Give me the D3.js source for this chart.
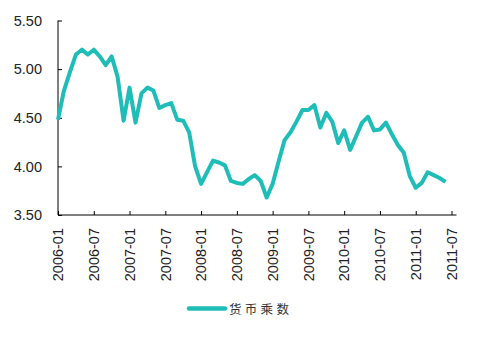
<!DOCTYPE html>
<html><head><meta charset="utf-8">
<script src="https://cdn.jsdelivr.net/npm/d3@7/dist/d3.min.js"></script>
<style>body{margin:0;background:#fff;}svg{display:block;}</style>
</head><body>
<svg id="c" width="477" height="342"></svg>
<script>
const startYear = 2006;
const values = [4.48,4.78,4.97,5.15,5.20,5.15,5.20,5.13,5.04,5.13,4.92,4.47,
  4.81,4.45,4.75,4.81,4.78,4.60,4.63,4.65,4.48,4.47,4.35,4.00,
  3.82,3.94,4.06,4.04,4.01,3.85,3.83,3.82,3.87,3.91,3.85,3.68,
  3.82,4.05,4.27,4.35,4.46,4.58,4.58,4.63,4.40,4.55,4.46,4.24,
  4.37,4.17,4.31,4.45,4.51,4.37,4.38,4.45,4.33,4.22,4.14,3.90,
  3.78,3.83,3.94,3.91,3.88,3.84];
const categories = values.map((v,i)=>{const y=startYear+Math.floor(i/12), m=i%12+1; return y+"-"+String(m).padStart(2,"0");});
const tickLabels = ["2006-01","2006-07","2007-01","2007-07","2008-01","2008-07","2009-01","2009-07","2010-01","2010-07","2011-01","2011-07"];
const yTicks = [3.5,4.0,4.5,5.0,5.5];
const seriesName = "货币乘数";
const color = "#1fbdb7";

const svg = d3.select("#c");
const x = d3.scaleLinear().domain([0,66]).range([58,451.5]);
const y = d3.scaleLinear().domain([3.5,5.5]).range([215,20.5]);
const idx = s => { const [yy,mm]=s.split("-").map(Number); return (yy-startYear)*12+mm-1; };

// y axis
const ya = svg.append("g").attr("transform","translate(58,0)")
  .call(d3.axisRight(y).tickValues(yTicks).tickSize(4).tickFormat(""));
ya.select(".domain").attr("d","M0,20.5V215");
ya.selectAll("line").attr("stroke","#000");
ya.select(".domain").attr("stroke","#000");
svg.append("g").selectAll("text").data(yTicks).join("text")
  .attr("x",42).attr("y",d=>y(d)).attr("dy","0.36em").attr("text-anchor","end")
  .style("font","14.5px 'Liberation Sans', Arial, sans-serif").attr("fill","#222")
  .text(d=>d.toFixed(2));

// x axis
const xa = svg.append("g").attr("transform","translate(0,215)")
  .call(d3.axisTop(x).tickValues(tickLabels.map(idx)).tickSize(4).tickFormat(""));
xa.select(".domain").attr("d","M58,0H456.5").attr("stroke","#000");
xa.selectAll("line").attr("stroke","#000");
svg.append("g").selectAll("text").data(tickLabels).join("text")
  .attr("transform",d=>`translate(${x(idx(d))},228) rotate(-90)`)
  .attr("dy","0.36em").attr("text-anchor","end")
  .style("font","14.5px 'Liberation Sans', Arial, sans-serif").attr("fill","#222")
  .text(d=>d);

// line
const line = d3.line().x((d,i)=>x(i)).y(d=>y(d));
svg.append("path").datum(values).attr("d",line)
  .attr("fill","none").attr("stroke",color).attr("stroke-width",4)
  .attr("stroke-linejoin","round");

// legend
const lg = svg.append("g");
lg.append("line").attr("x1",189).attr("x2",225).attr("y1",308.5).attr("y2",308.5)
  .attr("stroke",color).attr("stroke-width",4.5).attr("stroke-linecap","round");
lg.append("text").attr("x",229).attr("y",309).attr("dy","0.36em")
  .style("font","12.5px 'Noto Sans CJK SC', sans-serif").style("letter-spacing","3.3px")
  .attr("fill","#333").text(seriesName);
</script>
</body></html>
